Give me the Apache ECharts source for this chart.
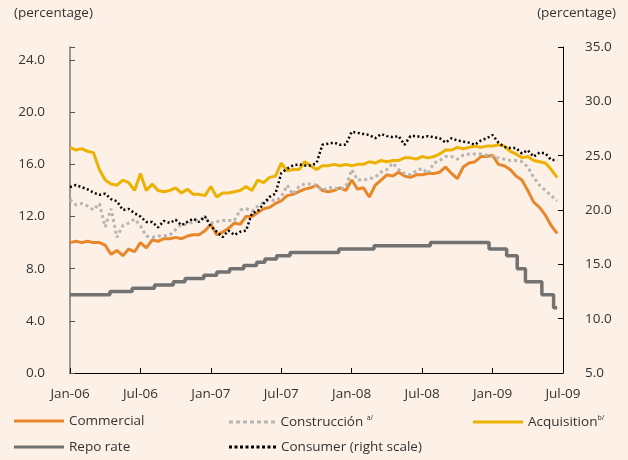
<!DOCTYPE html>
<html>
<head>
<meta charset="utf-8">
<script src="https://cdn.jsdelivr.net/npm/echarts@6/dist/echarts.min.js"></script>
<style>
  html, body { margin: 0; padding: 0; background: #fdf1e7; }
  #chart { width: 628px; height: 460px; }
</style>
</head>
<body>
<div id="chart"></div>
<script>
// x tick labels, every 6 months from Jan-06
var tickLabels = ['Jan-06', 'Jul-06', 'Jan-07', 'Jul-07', 'Jan-08', 'Jul-08', 'Jan-09', 'Jul-09'];

// semi-monthly readings, first one at Jan-06 (left scale, %)
var commercial = [
  10.0, 10.1, 10.0, 10.1, 10.0, 10.0, 9.8, 9.1, 9.4, 9.0,
  9.5, 9.3, 10.0, 9.6, 10.2, 10.1, 10.3, 10.3, 10.4, 10.3,
  10.5, 10.6, 10.6, 10.9, 11.4, 10.6, 10.8, 11.1, 11.5, 11.4,
  12.0, 12.0, 12.3, 12.6, 12.7, 13.0, 13.2, 13.6, 13.7, 13.9,
  14.1, 14.2, 14.4, 14.0, 13.9, 14.0, 14.2, 14.0, 14.8, 14.1,
  14.2, 13.5, 14.4, 14.8, 15.2, 15.1, 15.4, 15.1, 15.0, 15.2,
  15.2, 15.3, 15.3, 15.4, 15.8, 15.3, 14.9, 15.8, 16.1, 16.2,
  16.6, 16.6, 16.7, 16.0, 15.9, 15.6, 15.1, 14.8, 14.0, 13.1,
  12.7, 12.1, 11.3, 10.7
];
var construccion = [
  13.3, 12.9, 13.0, 12.8, 12.5, 13.0, 11.2, 12.6, 10.4, 11.3,
  11.5, 11.8, 11.3, 10.5, 10.4, 10.5, 10.5, 10.6, 11.0, 11.4,
  11.4, 11.6, 11.8, 11.9, 11.5, 11.6, 11.7, 11.7, 11.7, 12.5,
  12.6, 12.4, 12.8, 13.1, 13.3, 13.2, 13.5, 14.4, 13.7, 14.3,
  14.5, 14.5, 14.4, 14.0, 14.2, 14.2, 14.1, 14.3, 15.6, 14.8,
  14.8, 14.9, 15.0, 15.4, 15.6, 16.1, 15.6, 15.3, 15.2, 15.5,
  15.7, 15.3, 16.1, 16.3, 16.6, 16.6, 16.4, 16.7, 16.8, 16.8,
  16.8, 16.7, 16.6, 16.5, 16.4, 16.3, 16.3, 16.2, 15.8, 15.0,
  14.4, 14.0, 13.6, 13.2
];
var acquisition = [
  17.3, 17.1, 17.2, 17.0, 16.9, 15.6, 14.8, 14.5, 14.4, 14.8,
  14.6, 14.0, 15.3, 14.0, 14.5, 14.0, 13.9, 14.0, 14.2, 13.8,
  14.1, 13.7, 13.7, 13.6, 14.3, 13.5, 13.8, 13.8, 13.9, 14.0,
  14.3, 14.0, 14.8, 14.6, 15.0, 15.1, 16.1, 15.5, 15.6, 15.6,
  16.2, 15.9, 15.6, 15.9, 15.9, 16.0, 15.9, 16.0, 15.9, 16.0,
  16.0, 16.2, 16.1, 16.3, 16.2, 16.3, 16.3, 16.5, 16.5, 16.4,
  16.6, 16.5, 16.6, 16.8, 17.1, 17.1, 17.3, 17.2, 17.3, 17.4,
  17.3, 17.4, 17.4, 17.5, 17.4, 17.0, 16.8, 16.5, 16.6, 16.3,
  16.2, 16.1, 15.6, 15.0
];
// right scale, %
var consumer = [
  22.1, 22.3, 22.1, 21.9, 21.6, 21.4, 21.5, 21.0, 20.8, 20.0,
  20.1, 19.7, 19.4, 18.9, 18.9, 18.4, 19.0, 18.8, 19.1, 18.6,
  18.9, 19.2, 18.9, 19.4, 18.5, 18.0, 17.5, 18.1, 17.7, 18.0,
  18.1, 19.7, 19.9, 20.6, 21.2, 21.5, 23.4, 23.8, 24.1, 24.2,
  24.1, 24.1, 24.3, 26.0, 26.1, 26.2, 26.0, 26.0, 27.2, 27.1,
  27.0, 26.9, 26.6, 27.0, 26.8, 26.7, 26.8, 26.0, 26.8, 26.8,
  26.7, 26.8, 26.7, 26.6, 26.2, 26.6, 26.4, 26.3, 26.2, 26.0,
  26.4, 26.6, 26.9, 26.2, 25.8, 25.7, 25.7, 25.2, 25.5, 24.9,
  25.3, 25.2, 24.6, 24.6
];

// repo rate changes: months since Jan-06 and new level
var repoMonths = [0, 3.4, 5.3, 7.2, 8.8, 9.8, 11.4, 12.5, 13.6, 14.8, 15.9, 16.6, 17.6, 18.75,
  22.9, 25.9, 30.7, 35.7, 37.2, 38.1, 38.8, 40.2, 41.2, 41.5];
var repoRate = [6.0, 6.25, 6.5, 6.75, 7.0, 7.25, 7.5, 7.75, 8.0, 8.25, 8.5, 8.75, 9.0, 9.25,
  9.5, 9.75, 10.0, 9.5, 9.0, 8.0, 7.0, 6.0, 5.0, 5.0];

// half-month sampling grid
function pairs(vals) {
  return vals.map(function (v, i) { return [i * 0.5, v]; });
}

var font = 'Open Sans';
var fs = 13.5;
var txt = '#333';

// legend swatches
var solidIcon = 'path://M0,0h50v3h-50z';
var greyDots = 'path://M0,0h4v3h-4z M7,0h4v3h-4z M14,0h4v3h-4z M21,0h4v3h-4z M28,0h4v3h-4z M35,0h4v3h-4z M42,0h4v3h-4z';
var blackDots = 'path://M0,0h3v3h-3z M5.5,0h3v3h-3z M11,0h3v3h-3z M16.5,0h3v3h-3z M22,0h3v3h-3z M27.5,0h3v3h-3z M33,0h3v3h-3z M38.5,0h3v3h-3z M44,0h3v3h-3z';

var chart = echarts.init(document.getElementById('chart'));

function leg(name, icon, w, left, top) {
  return {
    data: [{ name: name, icon: icon }], left: left, top: top, itemWidth: w, itemHeight: 3, itemGap: 0,
    textStyle: {
      fontFamily: font, fontSize: fs, color: txt,
      rich: { sup: { fontFamily: font, fontSize: 7, color: txt, padding: [0, 0, 9, 0] } }
    },
    formatter: function (n) {
      if (n === 'Construcción') return n + ' {sup|a/}';
      if (n === 'Acquisition') return n + '{sup|b/}';
      return n;
    }
  };
}

chart.setOption({
  backgroundColor: '#fdf1e7',
  animation: false,
  textStyle: { fontFamily: font },
  grid: { left: 70, right: 65, top: 47, bottom: 87 },
  graphic: [
    { type: 'text', left: 14, top: 6, style: { text: '(percentage)', fill: txt, font: fs + 'px "' + font + '"' } },
    { type: 'text', right: 12, top: 6, style: { text: '(percentage)', fill: txt, font: fs + 'px "' + font + '"' } }
  ],
  legend: [
    leg('Commercial', solidIcon, 50, 9, 409),
    leg('Construcción', greyDots, 47, 224, 409),
    leg('Acquisition', solidIcon, 50, 468, 409),
    leg('Repo rate', solidIcon, 50, 9, 435),
    leg('Consumer (right scale)', blackDots, 47, 224, 435)
  ],
  xAxis: {
    type: 'value', min: 0, max: 42, interval: 6,
    splitLine: { show: false },
    axisLine: { lineStyle: { color: '#000', width: 1 } },
    axisTick: { inside: true, length: 5, lineStyle: { color: '#000' } },
    axisLabel: {
      margin: 14, color: txt, fontSize: fs, fontFamily: font,
      formatter: function (v) { return tickLabels[v / 6]; }
    }
  },
  yAxis: [
    {
      type: 'value', min: 0, max: 25, interval: 4,
      splitLine: { show: false },
      axisLine: { show: true, lineStyle: { color: '#777', width: 1.5 } },
      axisTick: { show: true, inside: true, length: 5, lineStyle: { color: '#555' } },
      axisLabel: {
        margin: 25, color: txt, fontSize: fs, fontFamily: font,
        formatter: function (v) { return v > 24 ? '' : v.toFixed(1); }
      }
    },
    {
      type: 'value', min: 5, max: 35, interval: 5, position: 'right',
      splitLine: { show: false },
      axisLine: { show: true, lineStyle: { color: '#000', width: 1 } },
      axisTick: { show: true, inside: true, length: 5, lineStyle: { color: '#000' } },
      axisLabel: {
        margin: 22, color: txt, fontSize: fs, fontFamily: font,
        formatter: function (v) { return v.toFixed(1); }
      }
    }
  ],
  series: [
    {
      name: 'Commercial', type: 'line', data: pairs(commercial), showSymbol: false, symbol: 'none',
      lineStyle: { color: '#e8862a', width: 3 }, itemStyle: { color: '#e8862a' }
    },
    {
      name: 'Construcción', type: 'line', data: pairs(construccion), showSymbol: false, symbol: 'none',
      lineStyle: { color: '#b5b5b5', width: 3, type: [3, 3] }, itemStyle: { color: '#b5b5b5' }
    },
    {
      name: 'Acquisition', type: 'line', data: pairs(acquisition), showSymbol: false, symbol: 'none',
      lineStyle: { color: '#edb100', width: 3 }, itemStyle: { color: '#edb100' }
    },
    {
      name: 'Repo rate', type: 'line', step: 'end', showSymbol: false, symbol: 'none',
      data: repoMonths.map(function (m, i) { return [m, repoRate[i]]; }),
      lineStyle: { color: '#727272', width: 3.5 }, itemStyle: { color: '#727272' }
    },
    {
      name: 'Consumer (right scale)', type: 'line', yAxisIndex: 1, data: pairs(consumer),
      showSymbol: false, symbol: 'none',
      lineStyle: { color: '#000', width: 2.5, type: [2, 2.5] }, itemStyle: { color: '#000' }
    }
  ]
});
</script>
</body>
</html>
